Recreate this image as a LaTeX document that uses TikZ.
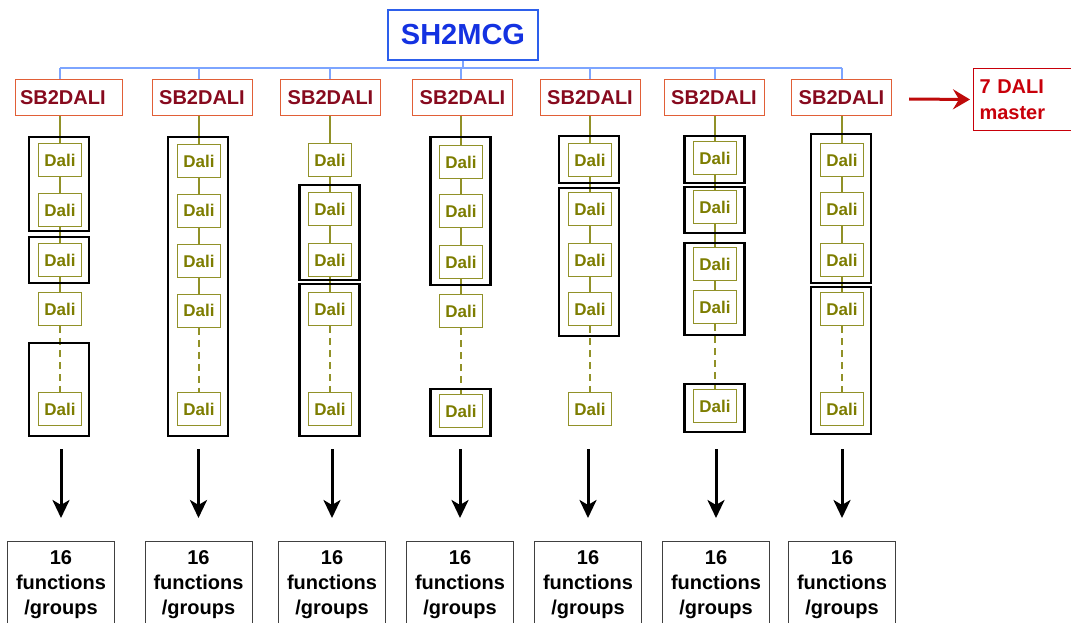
\documentclass[tikz,border=0pt]{standalone}
\usepackage{fontspec}
\setmainfont{Liberation Sans}
\usetikzlibrary{arrows.meta}

\definecolor{mcgblue}{RGB}{20,50,225}
\definecolor{mcgdraw}{RGB}{45,95,235}
\definecolor{busblue}{RGB}{125,165,255}
\definecolor{sbred}{RGB}{135,10,30}
\definecolor{sbdraw}{RGB}{225,95,55}
\definecolor{daliolive}{RGB}{125,125,0}
\definecolor{dalidraw}{RGB}{145,145,40}
\definecolor{masterred}{RGB}{200,0,10}
\definecolor{arrowred}{RGB}{190,10,10}

\begin{document}
\begin{tikzpicture}[x=1pt, y=-1pt,
    mcgbox/.style={draw=mcgdraw, line width=1.5pt, text=mcgblue, inner sep=0pt,
        minimum width=150pt, minimum height=50pt, font=\bfseries\fontsize{29}{32}\selectfont},
    sbbox/.style={draw=sbdraw, line width=1pt, text=sbred, inner sep=0pt,
        minimum width=100pt, minimum height=36pt, font=\bfseries\fontsize{20}{24}\selectfont},
    dalibox/.style={draw=dalidraw, line width=1pt, text=daliolive, fill=white, inner sep=0pt,
        minimum width=43pt, minimum height=33pt, font=\bfseries\fontsize{17}{20}\selectfont},
    fnbox/.style={draw=black!75, line width=1pt, align=center, inner xsep=0pt, inner ysep=9.5pt,
        minimum width=107pt, anchor=north, font=\bfseries\fontsize{20}{25}\selectfont},
    masterbox/.style={draw=masterred, line width=1pt, text=masterred, align=left, anchor=north west,
        inner xsep=6pt, text width=98pt, minimum height=62pt, font=\bfseries\fontsize{20}{26}\selectfont},
    busline/.style={draw=busblue, line width=1.2pt},
    dalilink/.style={draw=dalidraw, line width=1.2pt},
    grp/.style={draw=black, line width=2.5pt},
    down/.style={-{Stealth[length=18pt, width=17pt, inset=5pt]}, line width=3pt},
    redarrow/.style={-{Stealth[length=17pt, width=20pt, inset=6pt]}, color=arrowred, line width=3pt}]
        \useasboundingbox (0,0) rectangle (1071,623);
        \clip (0,0) rectangle (1071,623);

        % Master and bus
        \node[mcgbox] (mcg) at (463,35) {SH2MCG};
        \coordinate (bus) at (463,68);

        % Sub-masters
        \node[sbbox, minimum width=107pt, text width=97pt, align=left, inner xsep=5pt] (sb1) at (68.5,97.5) {SB2DALI};
        \foreach \i/\x in {2/202, 3/330.5, 4/462.5, 5/590, 6/714, 7/841.5}
            \node[sbbox] (sb\i) at (\x,97.5) {SB2DALI};

        % Dali devices
        \foreach \i/\x/\ya/\yb/\yc/\yd/\ye in {1/60/160/210/260/309/409, 2/199/161/210.5/261/310.5/409,
                3/330/160/209/260/309/409, 4/461/162/211/262/311/411, 5/590/160/209/260/309/409,
                6/715/158/207/264/307/406, 7/842/160/209/260/309/409} {
            \node[dalibox] (d\i1) at (\x,\ya) {Dali};
            \node[dalibox] (d\i2) at (\x,\yb) {Dali};
            \node[dalibox] (d\i3) at (\x,\yc) {Dali};
            \node[dalibox] (d\i4) at (\x,\yd) {Dali};
            \node[dalibox] (d\i5) at (\x,\ye) {Dali};
        }

        \draw[busline] (mcg) -- (bus);
        \draw[busline] (bus -| d11) -- (bus -| d71);
        \foreach \i in {1,...,7} {
            \draw[busline] (bus -| d\i1) -- (sb\i.north -| d\i1);
            \draw[dalilink] (sb\i.south -| d\i1) -- (d\i1) -- (d\i2) -- (d\i3) -- (d\i4);
            \draw[dalilink, dash pattern=on 7pt off 5pt] (d\i4) -- (d\i5);
        }

        % Groups
        \foreach \x/\ya/\yb in {59/137/231, 59/237/283, 59/343/436, 198/137/436,
                329.5/185/280, 329.5/284/436, 460.5/137/285, 460.5/389/436,
                589/136/183, 589/188/336, 714.5/136/183, 714.5/187/233,
                714.5/243/335, 714.5/384/432, 841/134/283, 841/287/434}
            \draw[grp] (\x-30,\ya) rectangle (\x+30,\yb);

        % Functions per sub-master
        \foreach \i/\x in {1/61, 2/198.5, 3/332, 4/460, 5/588, 6/716, 7/842} {
            \node[fnbox] (fn\i) at (\x,541) {16\\functions\\/groups};
            \coordinate (ar\i) at (\x,449);
            \draw[down] (ar\i) -- ([yshift=23pt]fn\i.north);
        }

        \node[masterbox] (master) at (973,68) {7 DALI\\master};
        \coordinate (ra) at (909,99);
        \draw[redarrow] (ra) -- ([xshift=-3pt]master.west);
\end{tikzpicture}
\end{document}
